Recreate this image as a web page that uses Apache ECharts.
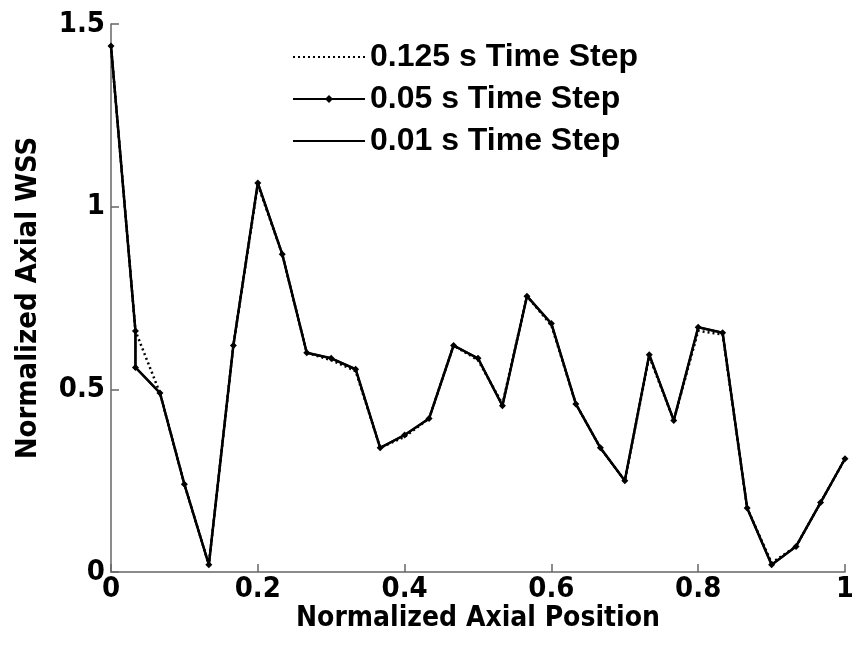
<!DOCTYPE html>
<html>
<head>
<meta charset="utf-8">
<script src="https://cdn.jsdelivr.net/npm/echarts@6/dist/echarts.min.js"></script>
<style>
  html, body { margin: 0; padding: 0; background: #fff; }
  #main { width: 852px; height: 650px; }
</style>
</head>
<body>
<div id="main"></div>
<script>
  // normalized axial positions (1/30 steps)
  var xPos = [0, 0.0333, 0.0667, 0.1, 0.1333, 0.1667, 0.2, 0.2333, 0.2667, 0.3,
              0.3333, 0.3667, 0.4, 0.4333, 0.4667, 0.5, 0.5333, 0.5667, 0.6, 0.6333,
              0.6667, 0.7, 0.7333, 0.7667, 0.8, 0.8333, 0.8667, 0.9, 0.9333, 0.9667, 1];

  // normalized axial WSS
  var wss125 = [1.44, 0.66, 0.49, 0.24, 0.02, 0.62, 1.06, 0.87, 0.60, 0.58,
                0.55, 0.34, 0.37, 0.42, 0.62, 0.58, 0.46, 0.755, 0.675, 0.46,
                0.34, 0.25, 0.59, 0.415, 0.66, 0.65, 0.175, 0.025, 0.07, 0.19, 0.31];
  var wss05  = [1.44, 0.56, 0.49, 0.24, 0.02, 0.62, 1.065, 0.87, 0.60, 0.585,
                0.555, 0.34, 0.375, 0.42, 0.62, 0.585, 0.455, 0.755, 0.68, 0.46,
                0.34, 0.25, 0.595, 0.415, 0.67, 0.655, 0.175, 0.02, 0.07, 0.19, 0.31];
  var wss01  = [1.44, 0.56, 0.49, 0.24, 0.02, 0.62, 1.065, 0.87, 0.60, 0.585,
                0.555, 0.34, 0.375, 0.42, 0.62, 0.585, 0.455, 0.755, 0.68, 0.46,
                0.34, 0.25, 0.595, 0.415, 0.67, 0.655, 0.175, 0.02, 0.07, 0.19, 0.31];
  // value just before the drop at the second position (finer time steps)
  var dropTop = 0.66;

  var seriesNames = ['0.125 s Time Step', '0.05 s Time Step', '0.01 s Time Step'];

  function pairs(vals, withDrop) {
    var out = [];
    for (var i = 0; i < xPos.length; i++) {
      if (withDrop && i === 1) out.push([xPos[i], dropTop]);
      out.push([xPos[i], vals[i]]);
    }
    return out;
  }

  var axisFont = '"Liberation Sans Narrow", "DejaVu Sans Condensed", "Liberation Sans", Arial, sans-serif';

  var chart = echarts.init(document.getElementById('main'));
  var option = {
    backgroundColor: '#fff',
    animation: false,
    grid: { left: 111, right: 7, top: 24, bottom: 78, outerBoundsMode: 'none' },
    legend: {
      orient: 'vertical',
      left: 287,
      top: 36,
      itemWidth: 72,
      itemHeight: 10,
      itemGap: 10,
      data: [
        { name: seriesNames[0], itemStyle: { opacity: 0 } },
        { name: seriesNames[1] },
        { name: seriesNames[2], itemStyle: { opacity: 0 } }
      ],
      textStyle: {
        fontFamily: '"Liberation Sans", Arial, sans-serif',
        fontWeight: 'bold',
        fontSize: 32,
        color: '#000'
      }
    },
    xAxis: {
      type: 'value',
      min: 0,
      max: 1,
      interval: 0.2,
      name: 'Normalized Axial Position',
      nameLocation: 'middle',
      nameGap: 33,
      nameMoveOverlap: false,
      nameTextStyle: { fontFamily: axisFont, fontWeight: 'bold', fontSize: 28, color: '#000' },
      axisLine: { lineStyle: { color: '#666', width: 1.5 } },
      axisTick: { inside: true, length: 8, lineStyle: { color: '#666', width: 1.5 } },
      axisLabel: { fontFamily: axisFont, fontWeight: 'bold', fontSize: 29, color: '#000', margin: 3 },
      splitLine: { show: false }
    },
    yAxis: {
      type: 'value',
      min: 0,
      max: 1.5,
      interval: 0.5,
      name: 'Normalized Axial WSS',
      nameLocation: 'middle',
      nameGap: 68,
      nameMoveOverlap: false,
      nameTextStyle: { fontFamily: axisFont, fontWeight: 'bold', fontSize: 29, color: '#000' },
      axisLine: { show: true, lineStyle: { color: '#666', width: 1.5 } },
      axisTick: { show: true, inside: true, length: 8, lineStyle: { color: '#666', width: 1.5 } },
      axisLabel: { fontFamily: axisFont, fontWeight: 'bold', fontSize: 29, color: '#000', margin: 6 },
      splitLine: { show: false }
    },
    series: [
      {
        name: seriesNames[0],
        type: 'line',
        data: pairs(wss125, false),
        symbol: 'none',
        lineStyle: { color: '#000', width: 2.5, type: [2, 3] },
        itemStyle: { color: '#000' },
        z: 2
      },
      {
        name: seriesNames[1],
        type: 'line',
        data: pairs(wss05, true),
        symbol: 'diamond',
        symbolSize: 7,
        lineStyle: { color: '#000', width: 2 },
        itemStyle: { color: '#000' },
        z: 3
      },
      {
        name: seriesNames[2],
        type: 'line',
        data: pairs(wss01, true),
        symbol: 'none',
        lineStyle: { color: '#000', width: 2.5 },
        itemStyle: { color: '#000' },
        z: 4
      }
    ]
  };
  chart.setOption(option);
</script>
</body>
</html>
